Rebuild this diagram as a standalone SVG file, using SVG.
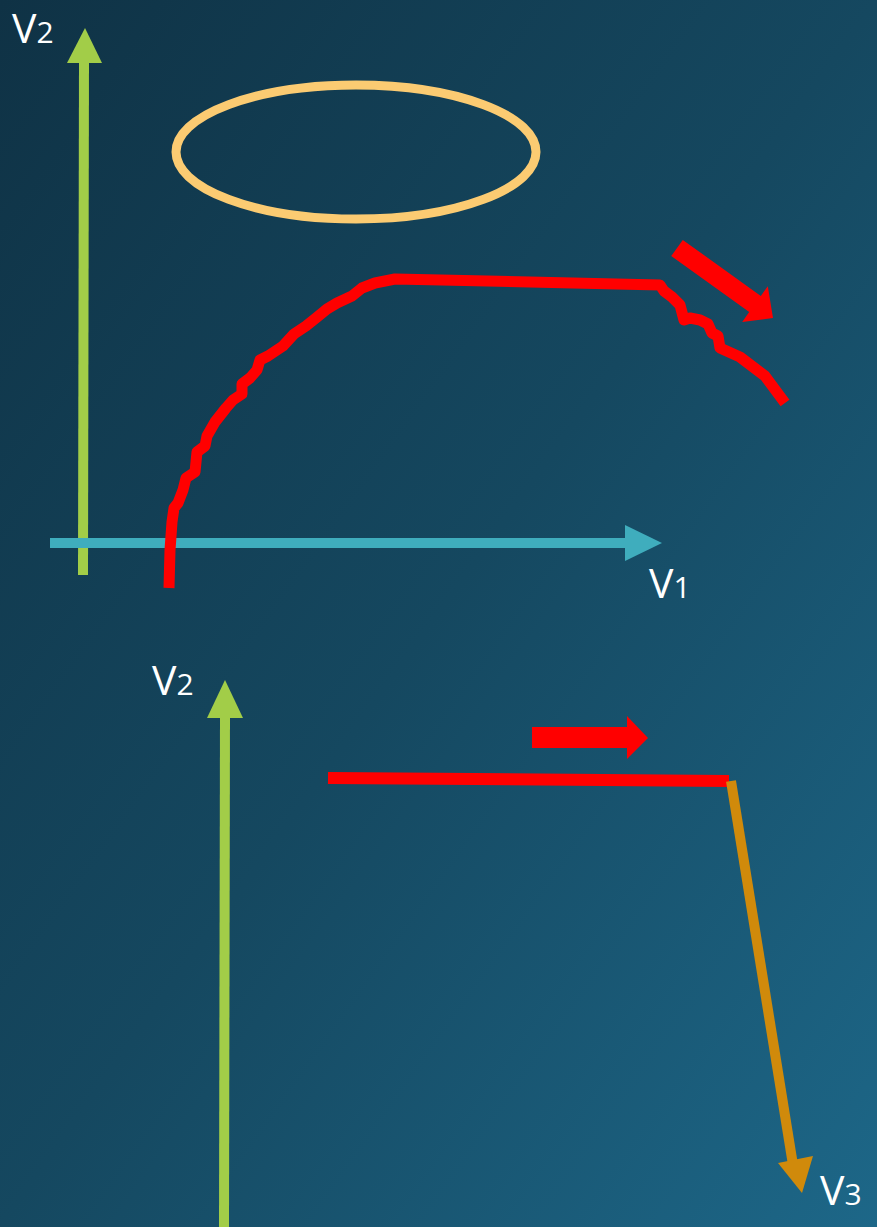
<svg xmlns="http://www.w3.org/2000/svg" width="877" height="1227" viewBox="0 0 877 1227">
<defs>
<linearGradient id="bg" x1="0" y1="0" x2="1" y2="1">
<stop offset="0" stop-color="#0f3245"/>
<stop offset="0.5" stop-color="#154860"/>
<stop offset="1" stop-color="#1d6788"/>
</linearGradient>
<style>
.lbl{font-family:"Open Sans","Noto Sans",sans-serif;fill:#ffffff;font-size:41px}
.num{font-size:30px}
.red{fill:none;stroke:#ff0000;stroke-width:11;stroke-linejoin:round}
</style>
</defs>
<rect width="877" height="1227" fill="url(#bg)"/>
<g id="ellipse"><ellipse cx="356" cy="152" rx="180" ry="67" fill="none" stroke="#fbcb72" stroke-width="9"/></g>
<g id="connectors">
<g id="axis-v2-top">
<line x1="83" y1="575" x2="84" y2="60" stroke="#a2cd48" stroke-width="10"/>
<polygon points="67,63 102,63 85,28" fill="#a2cd48"/>
</g>
<g id="axis-v1">
<line x1="50" y1="543" x2="628" y2="543" stroke="#3fadbd" stroke-width="10"/>
<polygon points="625,525 625,561 662,543" fill="#3fadbd"/>
</g>
<g id="curve">
<polyline class="red" points="169,588 170,550 172,522 174,508 178,503 183,490 186,478 195,472 197,452 205,446 207,436 215,422 226,408 233,400 242,394 242,384 250,378 257,370 260,360 268,356 283,346 294,334 306,326 316,318 327,309 337,303 352,296 362,288 375,283 395,279 660,285 664,291 672,297 680,305 684,320 690,318 700,320 708,324 712,333 718,336 720,348 740,357 765,376 785,403"/>
</g>
<g id="arrow-red-diag">
<polygon points="682.8,239.9 760.8,295.9 767.8,286.2 773,318 742.2,321.9 749.2,312.1 671.2,256.1" fill="#ff0000"/>
</g>
<g id="axis-v2-bottom">
<line x1="224" y1="1227" x2="225" y2="715" stroke="#a2cd48" stroke-width="10"/>
<polygon points="207,718 243,718 225,680" fill="#a2cd48"/>
</g>
<g id="red-line">
<line x1="328" y1="778" x2="729" y2="781" stroke="#ff0000" stroke-width="12"/>
</g>
<g id="arrow-red-small">
<polygon points="532,727 627,727 627,716 648,738 627,759 627,748 532,748" fill="#ff0000"/>
</g>
<g id="axis-v3">
<line x1="731" y1="781" x2="793" y2="1165" stroke="#d08a0b" stroke-width="10"/>
<polygon points="778,1163 813,1156 802,1193" fill="#d08a0b"/>
</g>
</g>
<g id="label-v2-top"><text class="lbl" x="12" y="43">V<tspan class="num">2</tspan></text></g>
<g id="label-v1"><text class="lbl" x="649" y="598">V<tspan class="num">1</tspan></text></g>
<g id="label-v2-bottom"><text class="lbl" x="152" y="695">V<tspan class="num">2</tspan></text></g>
<g id="label-v3"><text class="lbl" x="820" y="1205">V<tspan class="num">3</tspan></text></g>
</svg>
